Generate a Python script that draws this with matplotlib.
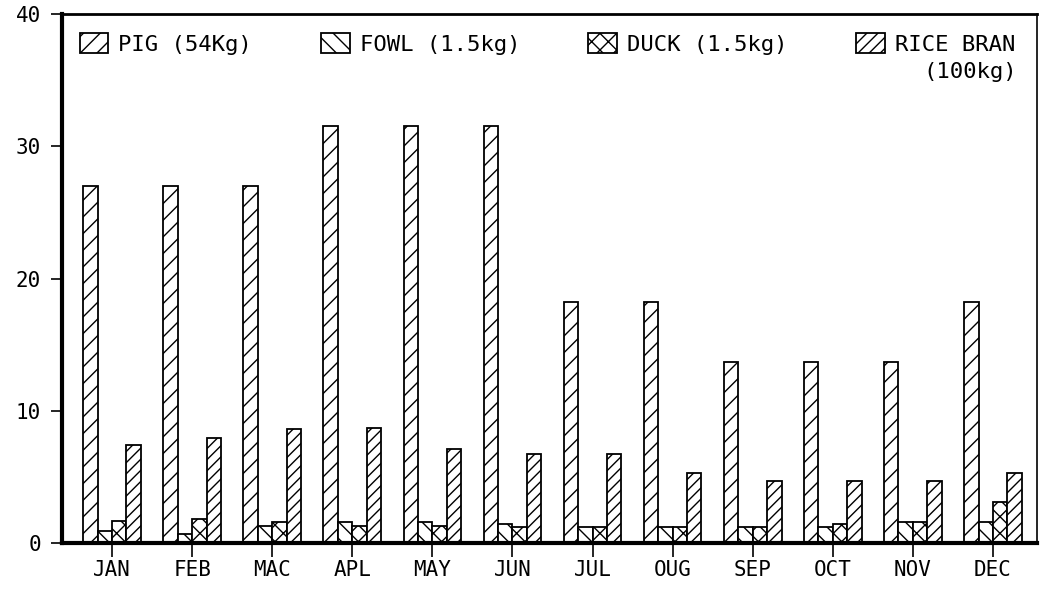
import matplotlib
matplotlib.use("Agg")
import matplotlib.pyplot as plt
import numpy as np

months = ["JAN", "FEB", "MAC", "APL", "MAY", "JUN", "JUL", "OUG", "SEP", "OCT", "NOV", "DEC"]
pig = [27, 27, 27, 31.5, 31.5, 31.5, 18.2, 18.2, 13.7, 13.7, 13.7, 18.2]
fowl = [0.9, 0.7, 1.3, 1.6, 1.6, 1.4, 1.2, 1.2, 1.2, 1.2, 1.6, 1.6]
duck = [1.7, 1.8, 1.6, 1.3, 1.3, 1.2, 1.2, 1.2, 1.2, 1.4, 1.6, 3.1]
rice = [7.4, 7.95, 8.6, 8.7, 7.1, 6.7, 6.7, 5.3, 4.7, 4.7, 4.7, 5.3]
labels = ["PIG (54Kg)", "FOWL (1.5kg)", "DUCK (1.5kg)", "RICE BRAN"]

plt.rcParams['font.family'] = ['DejaVu Sans Mono']
plt.rcParams['hatch.linewidth'] = 1.0

fig = plt.figure(figsize=(10.4, 5.92), dpi=100)
ax = fig.add_axes([0.0596, 0.0828, 0.9375, 0.8935])

x = np.arange(len(months))
w = 0.18
series = [pig, fowl, duck, rice]
hatches = ['//', '\\\\', 'xx', '///']
handles = []
for i, (vals, h) in enumerate(zip(series, hatches)):
    b = ax.bar(x + (i - 1.5) * w, vals, w, facecolor='white', edgecolor='black',
               linewidth=1.3, hatch=h, label=labels[i])
    handles.append(b)

ax.set_xlim(-0.625, 11.55)
ax.set_ylim(0, 40)
ax.set_yticks([0, 10, 20, 30, 40])
ax.set_xticks(x)
ax.set_xticklabels(months)
ax.tick_params(axis='both', labelsize=15, direction='out', width=1.2, colors='black')
ax.tick_params(axis='x', length=10, pad=2)
ax.tick_params(axis='y', length=8, pad=7)
ax.spines['left'].set_linewidth(3)
ax.spines['bottom'].set_linewidth(3)
ax.spines['top'].set_linewidth(2)
ax.spines['right'].set_linewidth(1.2)

# legend row, second line of the rice bran label set apart
leg = ax.legend(handles=handles, ncol=4, mode='expand', frameon=False, fontsize=16,
                loc='center left', bbox_to_anchor=(0.018, 0.943, 0.96, 0.0),
                handlelength=1.3, handleheight=1.0, handletextpad=0.45,
                borderaxespad=0, borderpad=0)
ax.text(0.98, 0.89, "(100kg)", transform=ax.transAxes, ha='right', va='center', fontsize=16)

fig.savefig("out.png", dpi=100)
